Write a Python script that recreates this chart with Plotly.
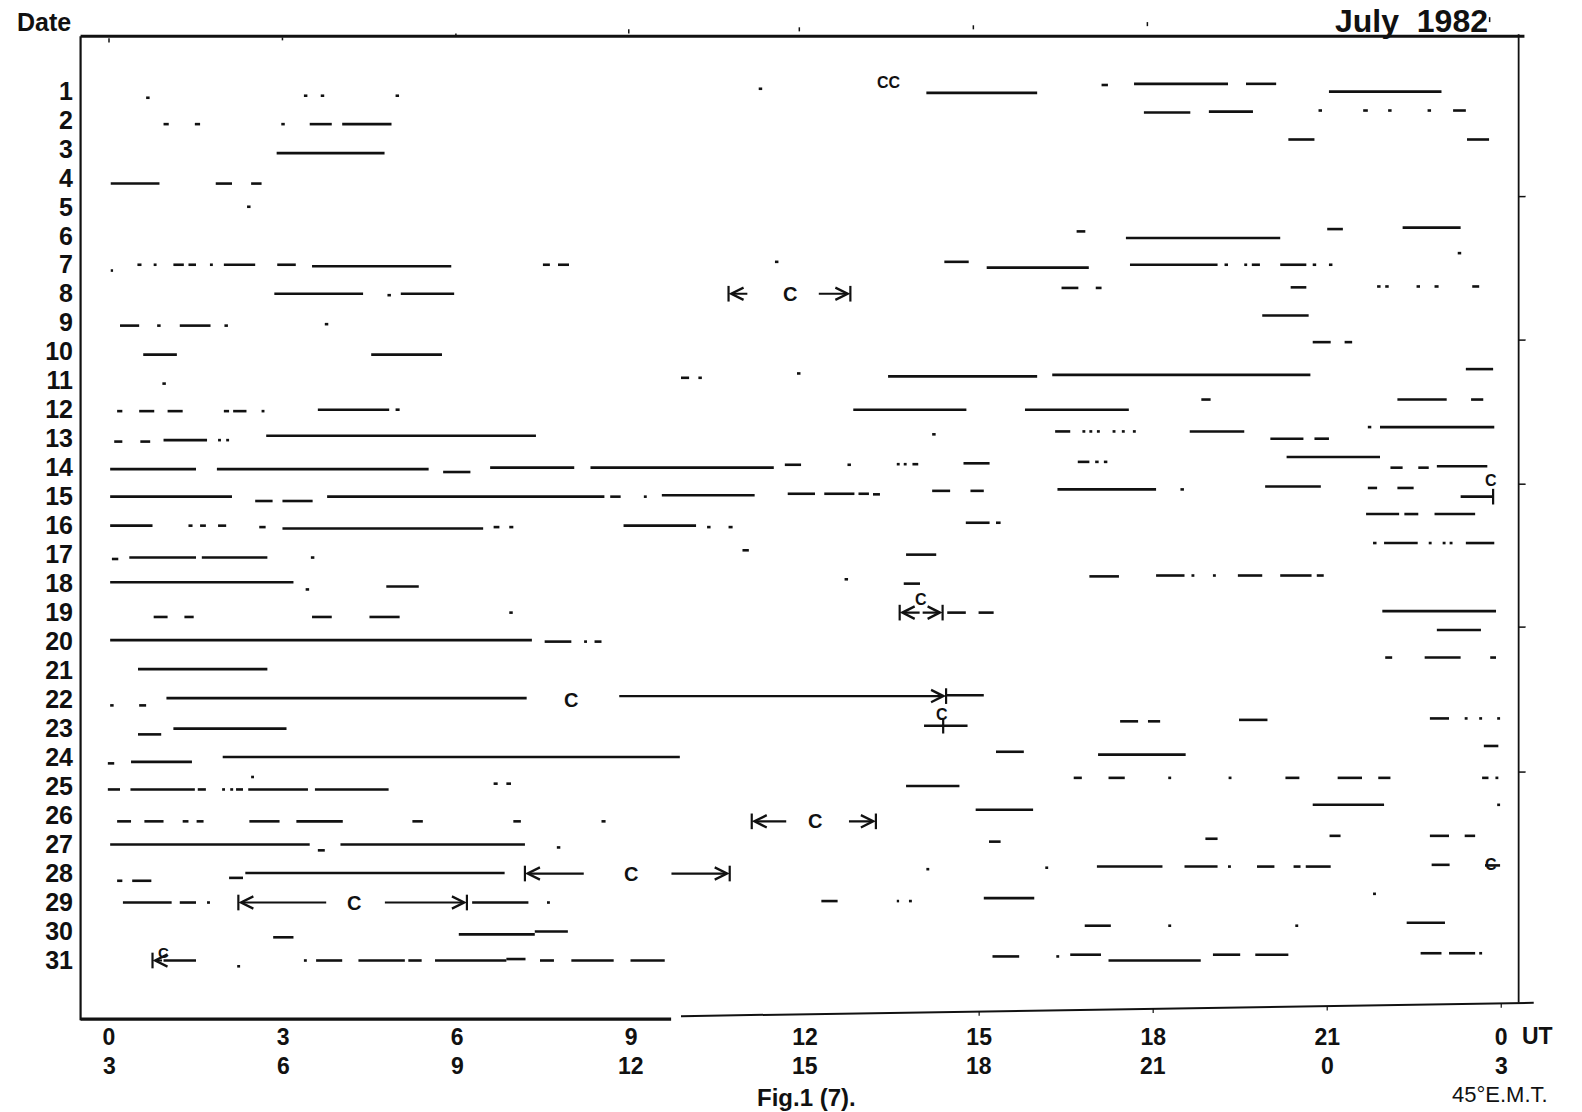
import plotly.graph_objects as go

# ---------------- data ----------------
# Each segment: day-row position (date, fractional where the scan is skewed), start hour UT, end hour UT
seg_day = [
    1.24, 1.17, 1.17, 1.17, 0.93, 1.07, 0.80, 0.76, 0.76, 1.03,
    2.15, 2.15, 2.15, 2.15, 2.15, 1.75, 1.72, 1.68, 1.68, 1.68, 1.68, 1.68,
    3.15, 2.68, 2.68,
    4.20, 4.20, 4.20,
    5.00, 5.85, 5.77, 5.72, 6.08, 6.60,
    7.20, 7.00, 7.00, 7.00, 7.00, 7.00, 7.00, 7.00, 7.05, 7.00, 7.00, 6.90, 6.90, 7.10, 7.00, 7.00, 7.00, 7.00, 7.00, 7.00, 7.00,
    8.00, 8.05, 8.00, 7.80, 7.80, 7.78, 7.75, 7.75, 7.75, 7.75, 7.75,
    9.10, 9.10, 9.10, 9.10, 9.05, 8.75,
    10.10, 10.10, 9.67, 9.67, 10.60,
    11.10, 10.90, 10.90, 10.75, 10.85, 10.80, 11.65, 11.65, 11.65,
    12.05, 12.05, 12.05, 12.05, 12.05, 12.05, 12.00, 12.00, 12.00, 12.00,
    13.10, 13.10, 13.05, 13.05, 13.05, 12.90, 12.85, 12.75, 12.75, 12.75, 12.75, 12.75, 12.75, 12.75, 12.75, 13.00, 13.00, 12.60, 12.60,
    14.05, 14.05, 14.15, 14.00, 14.00, 13.90, 13.90, 13.88, 13.88, 13.88, 13.85, 13.80, 13.80, 13.80, 13.63, 14.00, 14.00, 13.95,
    15.00, 15.15, 15.15, 15.00, 15.00, 15.00, 14.95, 14.90, 14.90, 14.90, 14.92, 14.80, 14.80, 14.75, 14.75, 14.65, 14.70, 14.70, 15.00,
    16.00, 16.00, 16.00, 16.00, 16.05, 16.10, 16.05, 16.05, 16.00, 16.05, 16.05, 15.90, 15.90, 15.60, 15.60, 15.60,
    17.15, 17.10, 17.10, 17.10, 16.85, 17.00, 16.60, 16.60, 16.60, 16.60, 16.60, 16.60,
    17.95, 18.20, 18.10, 17.85, 18.00, 17.75, 17.72, 17.72, 17.72, 17.72, 17.72, 17.72,
    19.15, 19.15, 19.15, 19.15, 19.00, 19.00, 19.00, 18.95,
    19.95, 20.00, 20.00, 20.00, 19.60,
    20.95, 20.55, 20.55, 20.55,
    22.20, 22.20, 21.95, 21.85,
    23.20, 23.00, 22.90, 22.75, 22.75, 22.70, 22.65, 22.65, 22.65, 22.65,
    24.20, 24.15, 23.98, 24.67, 23.80, 23.90, 23.60,
    25.10, 25.10, 25.10, 25.10, 25.10, 25.10, 25.10, 25.10, 24.90, 24.90, 24.98, 24.70, 24.70, 24.70, 24.70, 24.70, 24.70, 24.70, 24.70, 24.70,
    26.20, 26.20, 26.20, 26.20, 26.20, 26.20, 26.20, 26.20, 26.20, 25.80, 25.63, 25.63,
    27.00, 27.20, 27.00, 27.10, 26.90, 26.80, 26.70, 26.70, 26.70,
    28.25, 28.25, 28.15, 27.98, 27.85, 27.80, 27.76, 27.76, 27.76, 27.76, 27.76, 27.76, 27.70, 27.72,
    29.00, 29.00, 29.00, 29.00, 29.00, 28.95, 28.95, 28.95, 28.85, 28.70,
    30.20, 30.10, 30.00, 29.80, 29.80, 29.80, 29.70,
    31.00, 31.20, 31.00, 31.00, 31.00, 31.00, 31.00, 30.95, 31.00, 31.00, 31.00, 30.86, 30.86, 30.80, 31.00, 30.80, 30.80, 30.75, 30.75, 30.75,
]
seg_start = [
    0.64, 3.36, 3.65, 4.94, 11.20, 14.09, 17.11, 17.67, 19.60, 21.03,
    0.94, 1.48, 2.97, 3.46, 4.02, 17.84, 18.96, 20.85, 21.62, 22.05, 22.73, 23.17,
    2.89, 20.33, 23.41,
    0.03, 1.84, 2.45,
    2.38, 16.68, 21.00, 22.30, 17.53, 23.25,
    0.03, 0.49, 0.77, 1.11, 1.37, 1.74, 1.98, 2.90, 3.50, 7.48, 7.74, 11.48, 14.40, 15.13, 17.60, 19.23, 19.57, 19.70, 20.19, 20.75, 21.03,
    2.85, 4.80, 5.03, 16.42, 17.01, 20.37, 21.86, 22.00, 22.54, 22.85, 23.50,
    0.19, 0.83, 1.22, 1.99, 3.72, 19.88,
    0.59, 4.52, 20.75, 21.30, 23.39,
    0.92, 9.86, 10.16, 11.86, 13.43, 16.26, 18.83, 22.21, 23.48,
    0.14, 0.52, 1.01, 1.98, 2.14, 2.63, 3.60, 4.94, 12.83, 15.79,
    0.09, 0.54, 0.94, 1.88, 2.02, 2.71, 14.19, 16.31, 16.78, 16.90, 17.03, 17.30, 17.46, 17.65, 18.63, 20.02, 20.78, 21.70, 21.91,
    0.02, 1.86, 5.76, 6.57, 8.30, 11.65, 12.73, 13.58, 13.70, 13.85, 14.73, 16.70, 17.00, 17.15, 20.30, 22.09, 22.57, 22.89,
    0.02, 2.52, 2.99, 3.76, 8.64, 9.22, 9.53, 11.70, 12.33, 12.92, 13.17, 14.19, 14.85, 16.35, 18.47, 19.93, 21.70, 22.21, 23.30,
    0.02, 1.37, 1.57, 1.88, 2.59, 2.99, 6.63, 6.90, 8.87, 10.31, 10.68, 14.77, 15.29, 21.67, 22.33, 22.85,
    0.05, 0.35, 1.60, 3.48, 10.92, 13.74, 21.79, 21.98, 22.75, 22.99, 23.11, 23.39,
    0.02, 3.39, 4.78, 12.68, 13.70, 16.90, 18.05, 18.66, 19.03, 19.46, 20.19, 20.82,
    0.77, 1.30, 3.50, 4.49, 6.90, 14.45, 14.99, 21.95,
    0.02, 7.51, 8.19, 8.37, 22.89,
    0.50, 22.00, 22.68, 23.81,
    0.02, 0.52, 0.99, 14.43,
    0.50, 1.11, 14.05, 17.43, 17.91, 19.48, 22.77, 23.37, 23.62, 23.93,
    -0.02, 0.38, 1.96, 2.45, 15.29, 17.05, 23.70,
    -0.02, 0.37, 1.53, 1.95, 2.09, 2.19, 2.40, 3.55, 6.63, 6.85, 13.74, 16.63, 17.23, 18.26, 19.30, 20.28, 21.18, 21.88, 23.67, 23.90,
    0.14, 0.61, 1.27, 1.51, 2.42, 3.23, 5.23, 6.97, 8.49, 14.94, 20.75, 23.93,
    0.02, 3.60, 3.99, 7.72, 15.17, 18.90, 21.04, 22.77, 23.37,
    0.14, 0.40, 2.07, 2.35, 14.09, 16.14, 17.03, 18.54, 19.29, 19.79, 20.42, 20.63, 22.80, 23.72,
    0.24, 1.22, 1.69, 6.26, 7.55, 12.28, 13.58, 13.79, 15.08, 21.79,
    2.83, 6.03, 7.34, 16.82, 18.26, 20.45, 22.37,
    0.94, 2.21, 3.36, 3.57, 4.30, 5.16, 5.62, 6.85, 7.43, 7.97, 8.99, 15.23, 16.33, 16.57, 17.23, 19.03, 19.76, 22.61, 23.10, 23.62,
]
seg_end = [
    0.70, 3.42, 3.71, 5.00, 11.26, 16.00, 17.22, 19.29, 20.12, 22.97,
    1.03, 1.57, 3.03, 3.84, 4.87, 18.64, 19.72, 20.91, 21.70, 22.11, 22.79, 23.39,
    4.75, 20.78, 23.79,
    0.87, 2.12, 2.63,
    2.44, 16.83, 21.27, 23.30, 20.19, 23.31,
    0.07, 0.56, 0.82, 1.29, 1.50, 1.79, 2.52, 3.22, 5.90, 7.60, 7.93, 11.54, 14.82, 16.89, 19.11, 19.29, 19.62, 19.84, 20.64, 20.81, 21.09,
    4.38, 4.86, 5.95, 16.71, 17.11, 20.64, 21.92, 22.06, 22.60, 22.92, 23.62,
    0.52, 0.89, 1.75, 2.05, 3.78, 20.68,
    1.17, 5.74, 21.06, 21.43, 23.86,
    0.98, 10.00, 10.22, 11.92, 16.00, 20.71, 18.99, 23.06, 23.69,
    0.23, 0.78, 1.27, 2.07, 2.37, 2.68, 4.83, 5.01, 14.78, 17.58,
    0.23, 0.71, 1.69, 1.93, 2.07, 7.36, 14.25, 16.57, 16.83, 16.95, 17.08, 17.35, 17.51, 17.70, 19.57, 20.59, 21.03, 21.76, 23.88,
    1.50, 5.51, 6.23, 8.02, 11.46, 11.93, 12.79, 13.63, 13.75, 13.95, 15.18, 16.90, 17.06, 17.21, 21.91, 22.30, 22.75, 23.76,
    2.12, 2.82, 3.51, 8.54, 8.82, 9.27, 11.13, 12.17, 12.85, 13.10, 13.29, 14.50, 15.08, 18.05, 18.53, 20.89, 21.86, 22.49, 23.86,
    0.75, 1.44, 1.67, 2.02, 2.70, 6.45, 6.73, 6.97, 10.12, 10.37, 10.75, 15.18, 15.37, 22.24, 22.57, 23.55,
    0.16, 1.50, 2.73, 3.54, 11.03, 14.26, 21.85, 22.56, 22.80, 23.04, 23.16, 23.88,
    3.18, 3.45, 5.34, 12.74, 13.98, 17.41, 18.54, 18.71, 19.08, 19.88, 20.73, 20.94,
    1.01, 1.46, 3.84, 5.01, 6.96, 14.77, 15.25, 23.91,
    7.29, 7.97, 8.24, 8.49, 23.65,
    2.73, 22.12, 23.30, 23.91,
    0.08, 0.64, 7.20, 15.08,
    0.90, 3.06, 14.80, 17.74, 18.12, 19.97, 23.10, 23.42, 23.67, 23.98,
    0.09, 1.43, 9.84, 2.50, 15.77, 18.56, 23.95,
    0.19, 1.48, 1.67, 2.00, 2.14, 2.31, 3.43, 4.82, 6.70, 6.93, 14.66, 16.77, 17.51, 18.31, 19.35, 20.52, 21.60, 22.09, 23.78, 23.95,
    0.38, 0.94, 1.37, 1.63, 2.94, 4.03, 5.41, 7.10, 8.56, 15.93, 21.98, 23.98,
    3.46, 3.72, 7.17, 7.78, 15.37, 19.11, 21.23, 23.10, 23.55,
    0.23, 0.73, 2.31, 6.82, 14.14, 16.19, 18.16, 19.11, 19.34, 20.09, 20.54, 21.06, 23.11, 23.98,
    1.08, 1.50, 1.74, 7.23, 7.60, 12.56, 13.62, 13.84, 15.95, 21.84,
    3.18, 7.34, 7.91, 17.27, 18.31, 20.50, 23.03,
    1.50, 2.26, 3.41, 4.02, 5.10, 5.39, 6.85, 7.18, 7.67, 8.70, 9.58, 15.69, 16.38, 17.10, 18.82, 19.50, 20.33, 22.97, 23.55, 23.67,
]
assert len(seg_day) == len(seg_start) == len(seg_end)

# "|<-  C  ->|" arrows: row, tail hour, tip hour (tip carries the head and a bar)
arrow_day = [8.0, 8.0, 19.0, 19.0, 21.88, 26.2, 26.2, 28.0, 28.0, 29.0, 29.0, 31.0]
arrow_tail = [11.03, 12.21, 14.0, 14.0, 8.77, 11.70, 12.73, 8.21, 9.67, 3.77, 4.73, 0.94]
arrow_tip = [10.68, 12.78, 13.63, 14.37, 14.43, 11.08, 13.22, 7.17, 10.70, 2.23, 6.17, 0.75]
# extra end bars without arrowheads
bar_day = [15.0, 22.9]
bar_hour = [23.86, 14.38]

# "C" markers
c_day = [0.72, 8.0, 18.55, 22.0, 22.52, 26.2, 28.0, 29.0, 30.72, 14.45, 27.68]
c_hour = [13.45, 11.74, 14.0, 7.97, 14.36, 12.17, 8.99, 4.23, 0.94, 23.82, 23.83]
c_text = ["CC", "C", "C", "C", "C", "C", "C", "C", "C", "C", "C"]
c_size = [16, 20, 16, 20, 16, 20, 20, 20, 15, 16, 16]

dates = list(range(1, 32))
ut_ticks = [0, 3, 6, 9, 12, 15, 18, 21, 24]
ut_labels = ["0", "3", "6", "9", "12", "15", "18", "21", "0"]
emt_labels = ["3", "6", "9", "12", "15", "18", "21", "0", "3"]

# small marks of the scanned frame
top_mark_hour = [0.0, 2.99, 5.98, 8.96, 11.9, 14.9, 17.9, 23.8]
top_mark_y0 = [-0.81, -0.84, -0.98, -1.12, -1.19, -1.26, -1.37, -1.54]
top_mark_y1 = [-0.67, -0.74, -0.88, -0.98, -1.05, -1.12, -1.23, -1.37]
right_tick_day = [4.65, 9.6, 14.57, 19.5, 24.5]
bottom_tick_hour = [15.0, 18.0, 21.0, 24.0]

# ---------------- figure geometry (page pixels) ----------------
PAGE_W, PAGE_H = 1582, 1112
BODY = 0                                        # body margin removed by post_script below
W, H = PAGE_W - BODY, PAGE_H - BODY
PL, PR, PT, PB = 74, 1542, 14, 1021             # plot area on the page
X0_PX, PX_PER_H = 109.0, 58.01
ROW1_PX, PX_PER_ROW = 90.8, 28.99
x_range = [(PL - X0_PX) / PX_PER_H, (PR - X0_PX) / PX_PER_H]
y_range = [1 + (PB - ROW1_PX) / PX_PER_ROW, 1 + (PT - ROW1_PX) / PX_PER_ROW]

def xp(px):
    return (px - PL) / (PR - PL)

def yp(py):
    return (PB - py) / (PB - PT)

FONT = "Liberation Sans, Arial, Helvetica, sans-serif"
INK = "#111111"

xs, ys = [], []
for d, s, e in zip(seg_day, seg_start, seg_end):
    xs += [s, e, None]
    ys += [d, d, None]

fig = go.Figure()
fig.add_trace(go.Scatter(x=xs, y=ys, mode="lines",
                         line=dict(color=INK, width=2.6),
                         hoverinfo="skip", showlegend=False))

shapes = []
FL, FT, FR = -0.49, -0.88, 24.30
BOT_L = 33.02
b_x0, b_y0, b_x1, b_y1 = 9.86, 32.92, 24.56, 32.46

def line(x0, y0, x1, y1, w=2.2):
    return dict(type="line", xref="x", yref="y", x0=x0, y0=y0, x1=x1, y1=y1,
                line=dict(color=INK, width=w), layer="above")

shapes.append(line(FL, FT, FL, 33.06, 2.2))
shapes.append(line(FL, FT, 24.40, FT, 3.0))
shapes.append(line(FR, -0.95, FR, 32.46, 1.8))
shapes.append(line(FL, BOT_L, 9.69, BOT_L, 3.2))
shapes.append(line(b_x0, b_y0, b_x1, b_y1, 2.0))
for h, a, b in zip(top_mark_hour, top_mark_y0, top_mark_y1):
    shapes.append(line(h, a, h, b, 1.5))
for d in right_tick_day:
    shapes.append(line(FR, d, FR + 0.12, d, 1.5))
for h in bottom_tick_hour:
    yb = b_y0 + (b_y1 - b_y0) * (h - b_x0) / (b_x1 - b_x0)
    shapes.append(line(h, yb, h, yb + 0.15, 1.2))
for d, h in zip(arrow_day + bar_day, arrow_tip + bar_hour):
    shapes.append(line(h, d - 0.27, h, d + 0.27, 2.2))

annotations = []
for d, t0, t1 in zip(arrow_day, arrow_tail, arrow_tip):
    annotations.append(dict(x=t1, y=d, ax=t0, ay=d, xref="x", yref="y",
                            axref="x", ayref="y", text="", showarrow=True,
                            arrowhead=5, arrowsize=1.1, arrowwidth=2.2,
                            arrowcolor=INK, standoff=0, startstandoff=0))
for d, h, t, s in zip(c_day, c_hour, c_text, c_size):
    annotations.append(dict(x=h, y=d, xref="x", yref="y", text=t, showarrow=False,
                            font=dict(family=FONT, size=s, color=INK, weight="bold"),
                            xanchor="center", yanchor="middle"))

def page_text(px, py, text, size, bold=True, xanchor="center"):
    annotations.append(dict(x=xp(px), y=yp(py), xref="paper", yref="paper", text=text,
                            showarrow=False, xanchor=xanchor, yanchor="middle",
                            font=dict(family=FONT, size=size, color=INK,
                                      weight="bold" if bold else "normal")))

# second row of x labels (45°E mean time)
for h, t in zip(ut_ticks, emt_labels):
    page_text(X0_PX + h * PX_PER_H, 1066, t, 23)
page_text(1537, 1036, "UT", 23)
page_text(806, 1097, "Fig.1 (7).", 24)
page_text(1500, 1094, "45°E.M.T.", 22, bold=False)
page_text(44, 22, "Date", 25)
page_text(1490, 21, "July  1982", 32, xanchor="right")

fig.update_layout(
    width=W, height=H,
    margin=dict(l=PL - BODY, r=W - (PR - BODY), t=PT - BODY, b=H - (PB - BODY), pad=0),
    paper_bgcolor="white", plot_bgcolor="white",
    showlegend=False,
    shapes=shapes, annotations=annotations,
    xaxis=dict(range=x_range, tickmode="array", tickvals=ut_ticks, ticktext=ut_labels,
               showgrid=False, zeroline=False, showline=False, ticks="",
               tickfont=dict(family=FONT, size=23, color=INK, weight="bold")),
    yaxis=dict(range=y_range, tickmode="array", tickvals=dates,
               ticktext=[str(d) for d in dates],
               showgrid=False, zeroline=False, showline=False, ticks="",
               tickfont=dict(family=FONT, size=25, color=INK, weight="bold")),
)

fig.write_html("out.html",
               config={"displayModeBar": False},
               post_script="document.body.style.margin='0';document.body.style.padding='0';")
